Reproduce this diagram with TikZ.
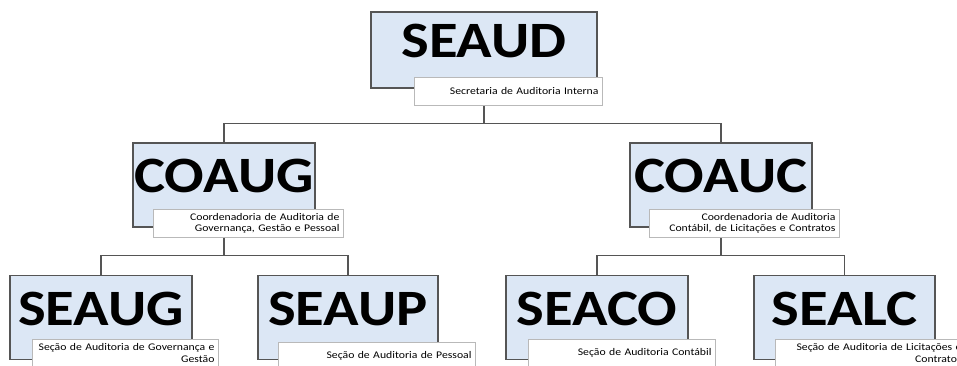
\documentclass[tikz,border=0pt]{standalone}
\usepackage{fontspec}
\newfontfamily\orgfont[FakeStretch=1.15]{Carlito}
\usepackage{tikz}
\usetikzlibrary{positioning,backgrounds}
\definecolor{orgBlue}{RGB}{220,231,245}
\definecolor{orgLine}{RGB}{85,85,85}

\begin{document}
\begin{tikzpicture}[
        unitbox/.style={draw=orgLine, fill=orgBlue, line width=0.6pt,
          minimum width=3.64cm, inner xsep=0pt, inner ysep=0.34cm,
          text height=0.66cm, text depth=0.34cm,
          font=\orgfont\fontsize{29}{30}\selectfont\bfseries},
        unitname/.style={draw=gray!55, fill=white, line width=0.5pt,
          text width=#1, align=right, minimum height=0.56cm,
          inner xsep=0.07cm, inner ysep=1pt,
          font=\orgfont\fontsize{5.8}{6.3}\selectfont},
        unitname/.default=3.6cm,
        link/.style={draw=orgLine, line width=0.9pt}
      ]
        \useasboundingbox (0,0) rectangle (19.14,7.30);
        \clip (0,0) rectangle (19.14,7.30);

        % top level
        \node[unitbox, minimum width=4.52cm, inner ysep=0.26cm] (seaud) at (9.68, 6.30) {SEAUD};
        \node[unitname=3.62cm] (seaudname) at (10.16, 5.48)
          {Secretaria de Auditoria Interna};

        % coordenadorias
        \node[unitbox] (coaug) at (4.48, 3.60) {COAUG};
        \node[unitname=3.66cm] (coaugname) at (4.96, 2.84)
          {Coordenadoria de Auditoria de\\Governança, Gestão e Pessoal};
        \node[unitbox] (coauc) at (14.42, 3.60) {COAUC};
        \node[unitname=3.66cm] (coaucname) at (14.88, 2.84)
          {Coordenadoria de Auditoria\\Contábil, de Licitações e Contratos};

        % secoes
        \node[unitbox] (seaug) at (2.02, 0.95) {SEAUG};
        \node[unitname=3.58cm] (seaugname) at (2.50, 0.24)
          {Seção de Auditoria de Governança e\\Gestão};
        \node[unitbox, minimum width=3.60cm] (seaup) at (6.96, 0.95) {SEAUP};
        \node[unitname=3.80cm] (seaupname) at (7.53, 0.18)
          {Seção de Auditoria de Pessoal};
        \node[unitbox] (seaco) at (11.94, 0.95) {SEACO};
        \node[unitname=3.60cm] (seaconame) at (12.43, 0.24)
          {Seção de Auditoria Contábil};
        \node[unitbox, minimum width=3.62cm] (sealc) at (16.89, 0.95) {SEALC};
        \node[unitname=3.66cm] (sealcname) at (17.40, 0.24)
          {Seção de Auditoria de Licitações e\\Contratos};

        % connectors
        \begin{scope}[on background layer]
          \draw[link] (seaud.south) -- ++(0,-0.70) coordinate (seaudjoin);
          \draw[link] (seaudjoin) -| (coaug.north);
          \draw[link] (seaudjoin) -| (coauc.north);
          \draw[link] (coaug.south) -- ++(0,-0.56) coordinate (coaugjoin);
          \draw[link] (coaugjoin) -| (seaug.north);
          \draw[link] (coaugjoin) -| (seaup.north);
          \draw[link] (coauc.south) -- ++(0,-0.56) coordinate (coaucjoin);
          \draw[link] (coaucjoin) -| (seaco.north);
          \draw[link] (coaucjoin) -| (sealc.north);
        \end{scope}
      \end{tikzpicture}
\end{document}
